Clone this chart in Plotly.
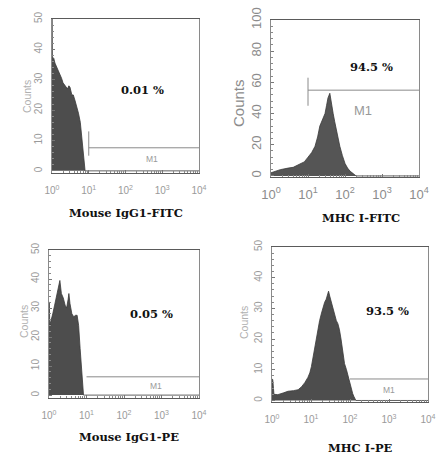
import numpy as np
import plotly.graph_objects as go

# ---------------- data (log10 fluorescence position, counts) ----------------
p1_log = [0, 0.005, 0.01, 0.05, 0.08, 0.12, 0.16, 0.22, 0.26, 0.30, 0.36, 0.42, 0.46, 0.49,
          0.54, 0.58, 0.63, 0.68, 0.72, 0.77, 0.82, 0.86, 0.88, 0.90, 4.0]
p1_cnt = [50, 50, 37.5, 37, 35.5, 34.5, 33, 32, 30.5, 29, 28, 27, 28, 27.5,
          25, 25, 23, 21, 19, 16, 10, 5, 2.6, 0, 0]

p2_log = [0, 0.1, 0.25, 0.46, 0.6, 0.81, 0.9, 1.0, 1.1, 1.19, 1.26, 1.32, 1.40, 1.46, 1.50,
          1.54, 1.59, 1.63, 1.68, 1.72, 1.76, 1.81, 1.86, 1.93, 2.0, 2.07, 2.14, 2.22, 2.3, 4.0]
p2_cnt = [2, 3, 4, 5, 5.5, 8, 9, 12, 15, 19, 25, 32, 37, 40, 45,
          50, 53, 46, 40, 35, 30, 25, 19, 13, 8, 5, 3, 1.5, 0, 0]

p3_log = [0, 0.01, 0.02, 0.05, 0.1, 0.15, 0.2, 0.25, 0.29, 0.33, 0.38, 0.43, 0.47, 0.51,
          0.53, 0.56, 0.61, 0.66, 0.71, 0.75, 0.79, 0.83, 0.87, 0.9, 0.92, 4.0]
p3_cnt = [32, 32, 24, 26, 28, 31, 34, 36, 39.5, 35, 33.5, 31, 30, 33,
          35, 31.5, 28, 27, 27.5, 27.5, 24, 16, 8, 2, 0, 0]

p4_log = [0, 0.02, 0.05, 0.15, 0.3, 0.41, 0.55, 0.67, 0.76, 0.84, 0.92, 0.97, 1.01, 1.05,
          1.1, 1.14, 1.18, 1.22, 1.27, 1.31, 1.35, 1.39, 1.42, 1.45, 1.48, 1.52, 1.56, 1.61,
          1.65, 1.69, 1.73, 1.77, 1.82, 1.86, 1.91, 1.95, 1.99, 2.03, 2.07, 2.1, 2.15, 4.0]
p4_cnt = [7, 6.8, 2, 1.9, 2.5, 3, 3.2, 3.5, 4.5, 5.8, 7.5, 9, 11, 14,
          18, 21, 24, 26, 28.5, 30.7, 32, 33, 34, 35.6, 34, 32, 30, 27.5,
          26, 25, 23, 20, 16, 12, 10, 8, 5.5, 3.5, 2.2, 1.3, 0, 0]

titles = ["Mouse IgG1-FITC", "MHC I-FITC", "Mouse IgG1-PE", "MHC I-PE"]
percents = ["0.01 %", "94.5 %", "0.05 %", "93.5 %"]
pct_pos = [(2.46, 26.6), (2.71, 70), (2.73, 28), (2.97, 29)]
gate_start = [10, 10, 10, 100]
gate_end = [10000, 10000, 10000, 10000]
gate_level = [7.6, 55, 6.3, 7]
gate_tick = [(5, 13), (45, 63), None, None]
m1_pos = [(2.71, 3.9), (2.49, 42), (2.86, 3.1), (2.99, 3.3)]
y_max = [50, 100, 50, 50]
y_ticks = [[0, 10, 20, 30, 40, 50], [0, 20, 40, 60, 80, 100], [0, 10, 20, 30, 40, 50], [0, 10, 20, 30, 40, 50]]
x_tickvals = [1, 10, 100, 1000, 10000]
x_ticktext = ["10<sup>0</sup>", "10<sup>1</sup>", "10<sup>2</sup>", "10<sup>3</sup>", "10<sup>4</sup>"]

series = [(p1_log, p1_cnt), (p2_log, p2_cnt), (p3_log, p3_cnt), (p4_log, p4_cnt)]

# ---------------- layout geometry (pixels) ----------------
W, H = 437, 462
boxes = [  # x0, x1, ytop, ybottom, y-range low end
    (52, 199, 19, 173, -0.7),
    (271, 419, 20, 177, -0.7),
    (49, 199, 250, 398, -1.0),
    (272, 428, 247, 402, -0.5),
]
title_px = [(126, 213), (361, 218), (129, 437), (360, 448)]
counts_px = [(27, 97), (238, 103), (24, 322), (244, 323)]
big = [False, True, False, False]

fig = go.Figure()
minor_x = [m * 10 ** d for d in range(4) for m in range(2, 10)]

for i, (lg, ct) in enumerate(series):
    ax = "" if i == 0 else str(i + 1)
    xa, ya = "x" + ax, "y" + ax
    fill = "#4d4d4d" if i != 1 else "#555555"
    fig.add_trace(go.Scatter(x=np.power(10.0, lg), y=ct, mode="lines", fill="tozeroy",
                             line=dict(color="#3a3a3a", width=0.8), fillcolor=fill,
                             xaxis=xa, yaxis=ya, showlegend=False, hoverinfo="skip"))
    # gate M1
    fig.add_trace(go.Scatter(x=[gate_start[i], gate_end[i]], y=[gate_level[i], gate_level[i]],
                             mode="lines", line=dict(color="#8a8a8a", width=1),
                             xaxis=xa, yaxis=ya, showlegend=False, hoverinfo="skip"))
    if gate_tick[i] is not None:
        fig.add_trace(go.Scatter(x=[gate_start[i], gate_start[i]], y=list(gate_tick[i]),
                                 mode="lines", line=dict(color="#8a8a8a", width=1),
                                 xaxis=xa, yaxis=ya, showlegend=False, hoverinfo="skip"))

    x0, x1, yt, yb, ylo = boxes[i]
    fs = 13 if big[i] else 10
    tick_col = "#8c8c8c" if big[i] else "#9a9a9a"
    fig.update_layout(**{
        "xaxis" + ax: dict(type="log", range=[0, 4], domain=[x0 / W, x1 / W], anchor=ya,
                           automargin=False,
                           tickvals=x_tickvals, ticktext=x_ticktext, ticks="inside", ticklen=3,
                           tickcolor="#777", showline=True, linecolor="#5a5a5a", linewidth=1.3,
                           mirror=True, showgrid=False, zeroline=False,
                           ticklabelstandoff=5 if big[i] else 8,
                           tickfont=dict(family="Liberation Sans", size=fs, color=tick_col),
                           minor=dict(tickvals=minor_x, ticks="inside", ticklen=2, tickcolor="#888")),
        "yaxis" + ax: dict(range=[ylo, y_max[i]], domain=[1 - yb / H, 1 - yt / H], anchor=xa,
                           automargin=False,
                           tickvals=y_ticks[i], ticks="inside", ticklen=3, tickcolor="#777",
                           showline=True, linecolor="#8a8a8a", linewidth=1, mirror=True,
                           showgrid=False, zeroline=False, tickangle=-90,
                           ticklabelstandoff=4 if big[i] else 5,
                           tickfont=dict(family="Liberation Sans", size=fs, color=tick_col),
                           minor=dict(dtick=y_max[i] / 25, ticks="inside", ticklen=2, tickcolor="#888")),
    })

    # percent label
    px_, py_ = pct_pos[i]
    fig.add_annotation(x=px_, y=py_, xref=xa, yref=ya, text="<b>" + percents[i] + "</b>",
                       xanchor="center", yanchor="middle",
                       showarrow=False, font=dict(family="DejaVu Serif", size=11.5, color="#111"))
    # M1 label
    mx, my = m1_pos[i]
    fig.add_annotation(x=mx, y=my, xref=xa, yref=ya, text="M1", showarrow=False,
                       xanchor="center", yanchor="middle",
                       font=dict(family="Liberation Sans", size=13 if big[i] else 8.5, color="#999"))
    # bottom title
    tx, ty = title_px[i]
    fig.add_annotation(x=tx / W, y=1 - ty / H, xref="paper", yref="paper",
                       xanchor="center", yanchor="middle",
                       text="<b>" + titles[i] + "</b>", showarrow=False,
                       font=dict(family="DejaVu Serif", size=11.5, color="#111"))
    # Counts label
    cx, cy = counts_px[i]
    fig.add_annotation(x=cx / W, y=1 - cy / H, xref="paper", yref="paper", text="Counts",
                       xanchor="center", yanchor="middle",
                       textangle=-90, showarrow=False,
                       font=dict(family="Liberation Sans", size=15 if big[i] else 10.5,
                                 color="#8c8c8c" if big[i] else "#b0b0b0"))

fig.update_layout(width=W, height=H, margin=dict(l=0, r=0, t=0, b=0),
                  paper_bgcolor="white", plot_bgcolor="white")
fig.write_html("out.html")
